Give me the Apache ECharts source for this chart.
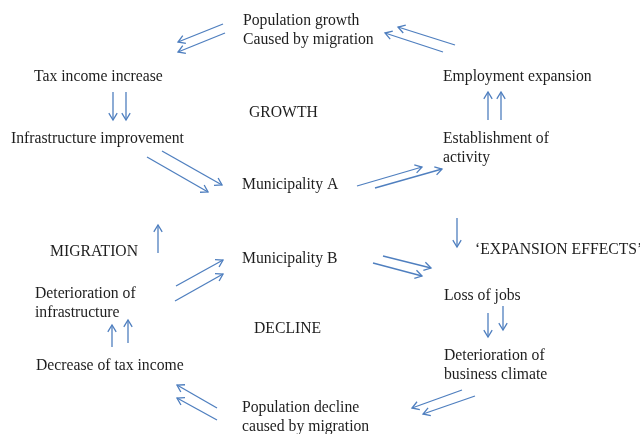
<!DOCTYPE html>
<html><head><meta charset="utf-8">
<script src="https://cdn.jsdelivr.net/npm/echarts@6/dist/echarts.min.js"></script>
<style>html,body{margin:0;padding:0;background:#fff}#c{width:640px;height:434px}</style>
</head><body><div id="c"></div>
<script>
// Diagram nodes (text), positioned on a hidden 640x434 value grid
const nodeLabels = [
  'Population growth\nCaused by migration',
  'Tax income increase',
  'GROWTH',
  'Employment expansion',
  'Infrastructure improvement',
  'Establishment of\nactivity',
  'Municipality A',
  'MIGRATION',
  'Municipality B',
  '\u2018EXPANSION EFFECTS\u2019',
  'Deterioration of\ninfrastructure',
  'Loss of jobs',
  'DECLINE',
  'Decrease of tax income',
  'Deterioration of\nbusiness climate',
  'Population decline\ncaused by migration'
];
const nodeX = [243, 34, 249, 443, 11, 443, 242, 50, 242, 475, 35, 444, 254, 36, 444, 242];
const nodeY = [30.5, 76.5, 112.5, 76.5, 138.5, 148.5, 185, 251.5, 258.5, 249.5, 303.5, 295.5, 328.5, 365.5, 365.5, 417.5];

// Arrows: start (x1,y1) -> end (x2,y2)
const arrowX1 = [223, 225, 455, 443, 113, 126, 162, 147, 357, 375, 488, 501, 158, 176, 175, 112, 128, 457, 383, 373, 488, 503, 217, 217, 462, 475];
const arrowY1 = [24, 33, 45, 52, 92, 92, 151, 157, 186, 188, 120, 120, 253, 286, 301, 347, 343, 218, 256, 263, 313, 306, 408, 420, 390, 396];
const arrowX2 = [178, 178, 398, 385, 113, 126, 222, 208, 422, 442, 488, 501, 158, 223, 223, 112, 128, 457, 431, 422, 488, 503, 177, 177, 412, 423];
const arrowY2 = [42, 52, 27, 33, 120, 120, 185, 192, 167, 169, 92, 92, 225, 260, 274, 325, 320, 247, 268, 276, 337, 330, 385, 398, 408, 414];

const textData = nodeLabels.map((t, i) => [nodeX[i], nodeY[i], t]);
const arrowData = arrowX1.map((x, i) => [x, arrowY1[i], arrowX2[i], arrowY2[i]]);

const ARROW_COLOR = '#4f7fbf';
const chart = echarts.init(document.getElementById('c'), null, {renderer: 'canvas'});
chart.setOption({
  backgroundColor: '#ffffff',
  animation: false,
  grid: {left: 0, right: 0, top: 0, bottom: 0},
  xAxis: {type: 'value', min: 0, max: 640, show: false},
  yAxis: {type: 'value', min: 0, max: 434, inverse: true, show: false},
  series: [
    {
      type: 'custom',
      coordinateSystem: 'cartesian2d',
      data: arrowData,
      renderItem: function (params, api) {
        const a = api.coord([api.value(0), api.value(1)]);
        const b = api.coord([api.value(2), api.value(3)]);
        const ang = Math.atan2(b[1] - a[1], b[0] - a[0]);
        const L = 8, spread = 0.55;
        const h1 = [b[0] - L * Math.cos(ang - spread), b[1] - L * Math.sin(ang - spread)];
        const h2 = [b[0] - L * Math.cos(ang + spread), b[1] - L * Math.sin(ang + spread)];
        const st = {stroke: ARROW_COLOR, lineWidth: 1.3, fill: null};
        return {
          type: 'group',
          children: [
            {type: 'line', shape: {x1: a[0], y1: a[1], x2: b[0], y2: b[1]}, style: st},
            {type: 'polyline', shape: {points: [h1, b, h2]}, style: st}
          ]
        };
      }
    },
    {
      type: 'custom',
      coordinateSystem: 'cartesian2d',
      data: textData,
      renderItem: function (params, api) {
        const p = api.coord([api.value(0), api.value(1)]);
        return {
          type: 'text',
          x: p[0],
          y: p[1],
          style: {
            text: textData[params.dataIndex][2],
            font: '15.7px "Liberation Serif", "Times New Roman", serif',
            fill: '#1e1e1e',
            textAlign: 'left',
            textVerticalAlign: 'middle',
            lineHeight: 19
          }
        };
      }
    }
  ]
});
</script></body></html>
